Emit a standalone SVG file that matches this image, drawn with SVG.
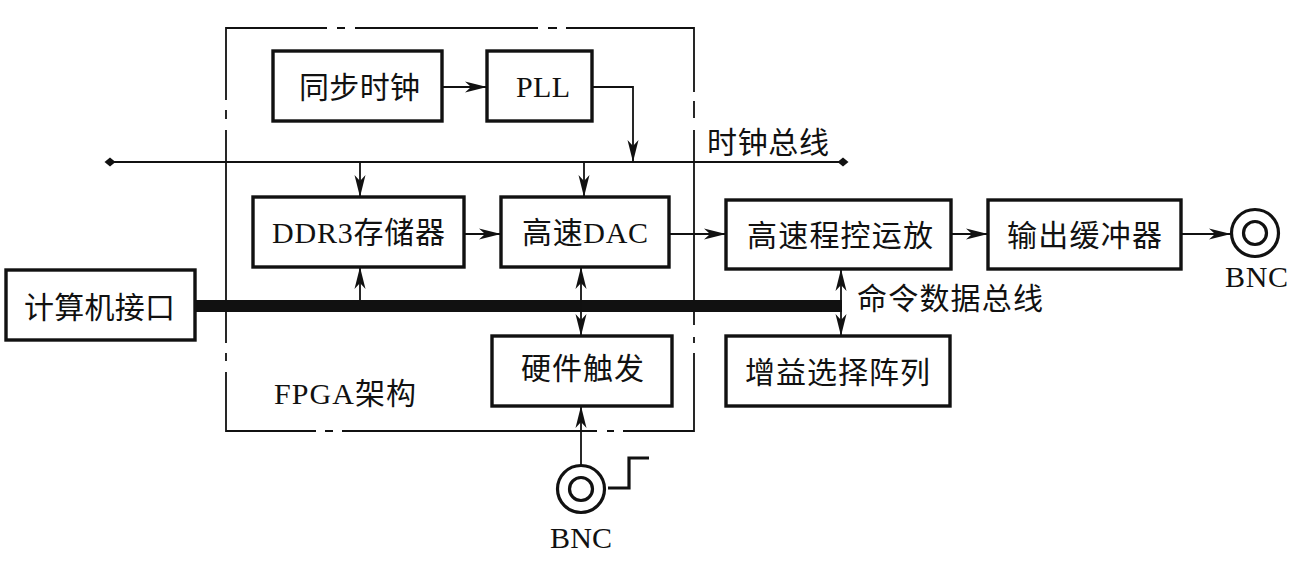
<svg xmlns="http://www.w3.org/2000/svg" width="1296" height="565" viewBox="0 0 1296 565">
<style>
text{font-family:"Liberation Serif","Noto Sans CJK SC",serif;font-size:30px;fill:#111;text-anchor:middle}
.n{fill:#fff;stroke:#111;stroke-width:3.4}
.c{fill:none;stroke:#111;stroke-width:1.8}
.f{fill:none;stroke:#111;stroke-width:1.8}
.r{fill:none;stroke:#111;stroke-width:3.2}
</style>
<defs>
<marker id="a" markerUnits="userSpaceOnUse" markerWidth="24" markerHeight="14" refX="22" refY="7" orient="auto-start-reverse">
<path d="M0 1.5L22 7L0 12.5L6 7Z" fill="#111"/>
</marker>
<marker id="d" markerUnits="userSpaceOnUse" markerWidth="14" markerHeight="12" refX="7" refY="6">
<path d="M1.5 6L7 1.5L12.5 6L7 10.5Z" fill="#111"/>
</marker>
</defs>
<g id="fpga-frame">
<path class="f" d="M327 28H226V100M226 110V119M226 130V343M226 353V361M226 372V431H316M325 431H333M342 431H597M607 431H614M623 431H694V353M694 343V337M694 325V130M694 118V101M694 92V28H566M557 28H548M538 28H355M345 28H337"/>
<text x="345" y="404" textLength="142">FPGA架构</text>
</g>
<g id="connectors">
<path d="M195 306H842" stroke="#111" stroke-width="12" fill="none"/>
<path class="c" d="M110 162H843" marker-start="url(#d)" marker-end="url(#d)"/>
<path class="c" d="M442 87H487" marker-end="url(#a)"/>
<path class="c" d="M592 87H633V162" marker-end="url(#a)"/>
<path class="c" d="M360 162V197" marker-end="url(#a)"/>
<path class="c" d="M584 162V197" marker-end="url(#a)"/>
<path class="c" d="M464 234H501" marker-end="url(#a)"/>
<path class="c" d="M669 234H726" marker-end="url(#a)"/>
<path class="c" d="M951 234H988" marker-end="url(#a)"/>
<path class="c" d="M1181 234H1231" marker-end="url(#a)"/>
<path class="c" d="M360 300V267" marker-end="url(#a)"/>
<path class="c" d="M581 306V267" marker-end="url(#a)"/>
<path class="c" d="M581 306V336" marker-end="url(#a)"/>
<path class="c" d="M841 300V269" marker-end="url(#a)"/>
<path class="c" d="M841 306V336" marker-end="url(#a)"/>
<path class="c" d="M581 465V406" marker-end="url(#a)"/>
<path d="M608 488H629V458H649" fill="none" stroke="#111" stroke-width="3.2"/>
</g>
<g id="sync-clock"><rect class="n" x="273" y="51" width="169" height="70"/><text x="359.500" y="98" textLength="121">同步时钟</text></g>
<g id="pll"><rect class="n" x="487" y="51" width="105" height="70"/><text x="543" y="97" textLength="54">PLL</text></g>
<g id="ddr3"><rect class="n" x="253" y="197" width="211" height="70"/><text x="358.500" y="243" textLength="173">DDR3存储器</text></g>
<g id="dac"><rect class="n" x="501" y="197" width="168" height="70"/><text x="585" y="243" textLength="126">高速DAC</text></g>
<g id="amp"><rect class="n" x="726" y="200" width="225" height="69"/><text x="840" y="246" textLength="186">高速程控运放</text></g>
<g id="buffer"><rect class="n" x="988" y="200" width="193" height="69"/><text x="1084.500" y="246" textLength="155">输出缓冲器</text></g>
<g id="pc-if"><rect class="n" x="6" y="270" width="189" height="70"/><text x="99.500" y="318" textLength="151">计算机接口</text></g>
<g id="trigger"><rect class="n" x="492" y="336" width="180" height="70"/><text x="582.500" y="379" textLength="123">硬件触发</text></g>
<g id="gain"><rect class="n" x="726" y="336" width="224" height="70"/><text x="837.500" y="383" textLength="185">增益选择阵列</text></g>
<g id="bnc-out"><circle class="r" cx="1255" cy="233" r="23.500"/><circle class="r" cx="1255" cy="233" r="11.500"/><text x="1256.500" y="287" textLength="63">BNC</text></g>
<g id="bnc-in"><circle class="r" cx="581" cy="489" r="23.500"/><circle class="r" cx="581" cy="489" r="11.500"/><text x="581" y="548" textLength="62">BNC</text></g>
<g id="labels"><text x="768" y="153" textLength="122">时钟总线</text><text x="950" y="309" textLength="186">命令数据总线</text></g>
</svg>
